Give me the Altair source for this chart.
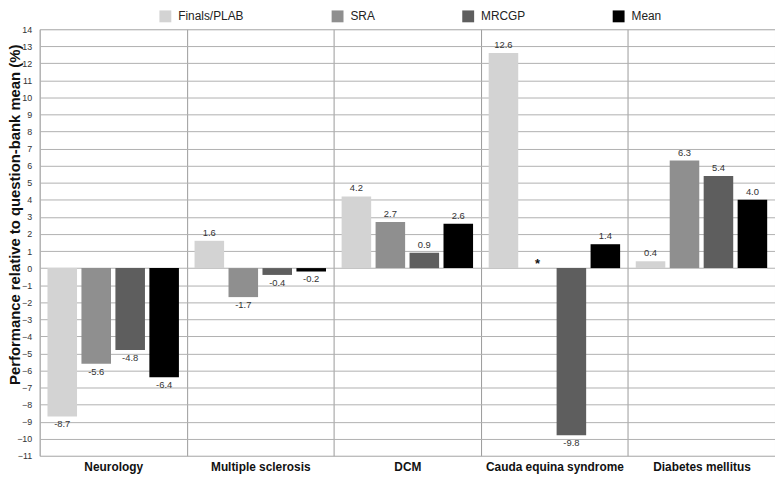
import altair as alt
import pandas as pd

categories = ["Neurology", "Multiple sclerosis", "DCM", "Cauda equina syndrome", "Diabetes mellitus"]
series = ["Finals/PLAB", "SRA", "MRCGP", "Mean"]
colors = ["#d3d3d3", "#8f8f8f", "#5e5e5e", "#000000"]

finals = [-8.7, 1.6, 4.2, 12.6, 0.4]
sra = [-5.6, -1.7, 2.7, None, 6.3]
mrcgp = [-4.8, -0.4, 0.9, -9.8, 5.4]
mean = [-6.4, -0.2, 2.6, 1.4, 4.0]

y_ticks = list(range(-11, 15))
y_title = "Performance relative to question-bank mean (%)"

rows = []
for s, vals in zip(series, [finals, sra, mrcgp, mean]):
    for c, v in zip(categories, vals):
        rows.append({"category": c, "series": s, "value": v,
                     "label": "*" if v is None else f"{v:.1f}"})
df = pd.DataFrame(rows)

FONT = "Liberation Sans"

x_enc = alt.X("category:N", sort=categories,
              scale=alt.Scale(paddingInner=0, paddingOuter=0),
              axis=alt.Axis(title=None, labelAngle=0, labelFont=FONT, labelFontSize=12,
                            labelFontWeight="bold", labelColor="#111", labelPadding=6,
                            ticks=False, domain=False, grid=True, tickBand="extent",
                            gridColor="#9a9a9a", gridWidth=1))
xo_enc = alt.XOffset("series:N", sort=series,
                     scale=alt.Scale(paddingInner=0.13, paddingOuter=0.23))
y_axis = alt.Axis(values=y_ticks, grid=True, gridColor="#b0b0b0", gridWidth=1,
                  ticks=False, domain=False, labelFont=FONT, labelFontSize=9,
                  labelColor="#333", labelPadding=8, labelOverlap=False,
                  title=y_title, titleFont=FONT, titleFontSize=15,
                  titleFontWeight="bold", titleColor="#111",
                  titleX=-25, titleY=187, titleAngle=270,
                  titleBaseline="middle", titleAlign="center")
y_scale = alt.Scale(domain=[-11, 14], nice=False, zero=False)
y_enc = alt.Y("value:Q", scale=y_scale, axis=y_axis)

base = alt.Chart(df)

bars = base.mark_bar().encode(
    x=x_enc, xOffset=xo_enc, y=y_enc,
    color=alt.Color("series:N", sort=series,
                    scale=alt.Scale(domain=series, range=colors),
                    legend=alt.Legend(title=None, orient="none", direction="horizontal",
                                      legendX=121, legendY=-19, symbolType="square",
                                      symbolSize=144, symbolStrokeWidth=0,
                                      labelFont=FONT, labelFontSize=12, labelColor="#222",
                                      labelOffset=7, columnPadding=88, padding=0)),
)

pos_text = base.transform_filter("datum.value != null && datum.value >= 0").mark_text(
    baseline="bottom", dy=-3, font=FONT, fontSize=9.5, color="#333"
).encode(x=x_enc, xOffset=xo_enc, y=y_enc, text="label:N")

neg_text = base.transform_filter("datum.value != null && datum.value < 0").mark_text(
    baseline="top", dy=3, font=FONT, fontSize=9.5, color="#333"
).encode(x=x_enc, xOffset=xo_enc, y=y_enc, text="label:N")

star = base.transform_filter("datum.value == null").transform_calculate(value="0").mark_text(
    baseline="alphabetic", dy=0, font=FONT, fontSize=13, fontWeight="bold", color="#111"
).encode(x=x_enc, xOffset=xo_enc, y=y_enc, text="label:N")

chart = alt.layer(bars, pos_text, neg_text, star).properties(
    width=743, height=431, autosize="none",
    padding={"left": 32, "top": 19, "right": 0, "bottom": 21},
).configure_view(stroke="#333", strokeWidth=1).configure(background="white")

chart.save("out.html", embed_options={"renderer": "svg", "actions": False})
